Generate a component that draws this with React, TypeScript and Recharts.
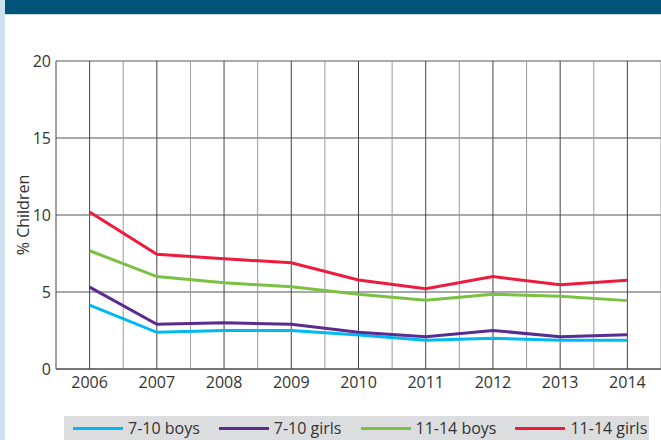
import React from "react";
import { LineChart, Line, XAxis, YAxis, CartesianGrid, ReferenceLine } from "recharts";

const years = [2006, 2007, 2008, 2009, 2010, 2011, 2012, 2013, 2014];
const boys710 = [4.15, 2.38, 2.5, 2.5, 2.2, 1.86, 2.0, 1.86, 1.86];
const girls710 = [5.32, 2.9, 3.0, 2.9, 2.38, 2.1, 2.5, 2.1, 2.23];
const boys1114 = [7.68, 6.0, 5.6, 5.34, 4.85, 4.46, 4.85, 4.72, 4.44];
const girls1114 = [10.2, 7.45, 7.16, 6.9, 5.78, 5.21, 6.0, 5.47, 5.76];
const yTicks = [0, 5, 10, 15, 20];

const seriesNames = ["7-10 boys", "7-10 girls", "11-14 boys", "11-14 girls"];
const seriesKeys = ["b710", "g710", "b1114", "g1114"];
const seriesColors = ["#00b9f2", "#5b2c8f", "#7ac143", "#ed1c3f"];

const data = years.map((y, i) => ({
  year: y,
  b710: boys710[i],
  g710: girls710[i],
  b1114: boys1114[i],
  g1114: girls1114[i],
}));

const FONT = "'Open Sans', 'Noto Sans', sans-serif";

export default function App() {
  return (
    <div style={{ position: "absolute", left: 0, top: 0, width: 661, height: 440, background: "#fff", overflow: "hidden", fontFamily: FONT }}>
      <div style={{ position: "absolute", left: 0, top: 0, width: 661, height: 14, background: "#005478" }} />
      <div style={{ position: "absolute", left: 0, top: 14, width: 661, height: 1, background: "#c5d9e6" }} />
      <div style={{ position: "absolute", left: 0, top: 0, width: 5, height: 440, background: "#cfe1ec" }} />
      <div style={{ position: "absolute", left: 0, top: 0 }}>
        <LineChart width={661} height={440} data={data} margin={{ top: 61, right: 0, left: 0, bottom: 0 }}>
          <CartesianGrid vertical={false} stroke="#555" strokeWidth={1} />
          {years.map((y) => (
            <ReferenceLine key={"m" + y} x={y + 0.5} stroke="#9a9a9a" strokeWidth={1} />
          ))}
          {years.map((y) => (
            <ReferenceLine key={"y" + y} x={y} stroke="#444" strokeWidth={1} />
          ))}
          <XAxis
            dataKey="year"
            type="number"
            domain={[2005.5, 2014.5]}
            ticks={years}
            height={71}
            tickLine={false}
            axisLine={{ stroke: "#444" }}
            tick={{ fill: "#333", fontSize: 16, fontFamily: FONT }}
            allowDataOverflow
          />
          <YAxis
            domain={[0, 20]}
            ticks={yTicks}
            width={56}
            tickLine={false}
            tickSize={3}
            tickMargin={2}
            axisLine={{ stroke: "#444" }}
            tick={{ fill: "#333", fontSize: 16, fontFamily: FONT }}
            label={{ value: "% Children", angle: -90, position: "insideLeft", dx: 18, fill: "#333", fontSize: 16, fontFamily: FONT, style: { textAnchor: "middle" } }}
          />
          {seriesKeys.map((k, i) => (
            <Line key={k} dataKey={k} name={seriesNames[i]} stroke={seriesColors[i]} strokeWidth={3} dot={false} type="linear" isAnimationActive={false} />
          ))}
        </LineChart>
      </div>
      <div style={{ position: "absolute", left: 64, top: 416, width: 585, height: 24, background: "#dcdddf", display: "flex", alignItems: "center", paddingLeft: 9, boxSizing: "border-box", whiteSpace: "nowrap" }}>
        {seriesNames.map((n, i) => (
          <div key={n} style={{ display: "flex", alignItems: "center", marginRight: 19, flexShrink: 0 }}>
            <div style={{ width: 50, height: 3, background: seriesColors[i], marginRight: 5, flexShrink: 0 }} />
            <span style={{ fontSize: 16, color: "#333", lineHeight: "24px", whiteSpace: "nowrap" }}>{n}</span>
          </div>
        ))}
      </div>
    </div>
  );
}
